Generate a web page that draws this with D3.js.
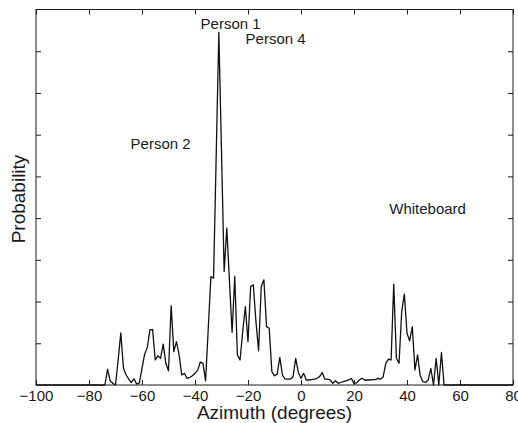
<!DOCTYPE html>
<html>
<head>
<meta charset="utf-8">
<script src="https://cdn.jsdelivr.net/npm/d3@7"></script>
<style>
  html, body { margin: 0; padding: 0; background: #fff; }
  svg { display: block; font-family: "Liberation Sans", Arial, sans-serif; }
</style>
</head>
<body>
<svg id="chart" width="518" height="423"></svg>
<script>
// ---- data ----
const azimuth = d3.range(-100, 81); // degrees, one sample per degree
const probNonZero = {
  "-73":0.38,"-72":0.10,"-71":0.04,"-70":0.00,"-69":0.60,"-68":1.25,"-67":0.40,"-66":0.24,
  "-65":0.14,"-64":0.06,"-63":0.15,"-62":0.02,"-61":0.05,"-60":0.40,"-59":0.74,"-58":0.90,
  "-57":1.32,"-56":1.33,"-55":0.60,"-54":0.70,"-53":0.64,"-52":0.98,"-51":0.52,"-50":0.34,
  "-49":1.90,"-48":0.80,"-47":1.04,"-46":0.72,"-45":0.24,"-44":0.28,"-43":0.16,"-42":0.18,
  "-41":0.22,"-40":0.28,"-39":0.35,"-38":0.55,"-37":0.52,"-36":0.10,"-35":1.35,"-34":2.60,
  "-33":2.56,"-32":5.50,"-31":8.45,"-30":5.60,"-29":2.72,"-28":3.76,"-27":2.50,"-26":1.26,
  "-25":2.60,"-24":0.72,"-23":0.60,"-22":1.28,"-21":1.88,"-20":1.04,"-19":2.36,"-18":2.40,
  "-17":1.52,"-16":0.82,"-15":2.36,"-14":2.52,"-13":1.40,"-12":1.36,"-11":0.32,"-10":0.22,
  "-9":0.26,"-8":0.66,"-7":0.24,"-6":0.14,"-5":0.14,"-4":0.14,"-3":0.20,"-2":0.64,"-1":0.30,
  "0":0.16,"1":0.28,"2":0.12,"3":0.12,"4":0.13,"5":0.14,"6":0.16,"7":0.20,"8":0.30,"9":0.14,
  "10":0.14,"11":0.12,"12":0.04,"13":0.10,"14":0.04,"15":0.06,"16":0.08,"17":0.10,"18":0.12,
  "19":0.16,"20":0.04,"21":0.05,"22":0.12,"23":0.16,"24":0.12,"25":0.12,"26":0.12,"27":0.13,
  "28":0.13,"29":0.16,"30":0.14,"31":0.20,"32":0.52,"33":0.62,"34":0.60,"35":2.42,"36":0.64,
  "37":0.52,"38":1.76,"39":2.18,"40":1.24,"41":1.06,"42":1.40,"43":0.36,"44":0.72,"45":0.22,
  "46":0.08,"47":0.06,"48":0.12,"49":0.40,"50":0.00,"51":0.64,"52":0.00,"53":0.78,"54":0.00
};
const probability = azimuth.map(a => probNonZero[String(a)] || 0);

const xTicks = [-100, -80, -60, -40, -20, 0, 20, 40, 60, 80];
const yTicks = [1, 2, 3, 4, 5, 6, 7, 8];

const labelNames = ["Person 1", "Person 4", "Person 2", "Whiteboard"];
const labelAz = [-37.9, -20.9, -64.3, 33.3];
const labelProb = [8.54, 8.18, 5.65, 4.10];

// ---- drawing ----
const svg = d3.select("#chart");
const mLeft = 36, mRight = 513, mTop = 9.5, mBottom = 385;
const x = d3.scaleLinear().domain([-100, 80]).range([mLeft, mRight]);
const y = d3.scaleLinear().domain([0, 9]).range([mBottom, mTop]);
const ink = "#1a1a1a";

// frame
svg.append("rect")
  .attr("x", mLeft).attr("y", mTop)
  .attr("width", mRight - mLeft).attr("height", mBottom - mTop)
  .attr("fill", "none").attr("stroke", ink).attr("stroke-width", 1);

const fmt = d => (d < 0 ? "\u2212" + Math.abs(d) : String(d));

// bottom axis with labels (ticks inward)
const gx = svg.append("g").attr("transform", `translate(0,${mBottom})`)
  .call(d3.axisBottom(x).tickValues(xTicks).tickSize(-5).tickPadding(5).tickFormat(fmt));
// top axis ticks (inward)
const gxt = svg.append("g").attr("transform", `translate(0,${mTop})`)
  .call(d3.axisTop(x).tickValues(xTicks).tickSize(-5).tickFormat(""));
// left / right y ticks (inward, no labels)
const gyl = svg.append("g").attr("transform", `translate(${mLeft},0)`)
  .call(d3.axisLeft(y).tickValues(yTicks).tickSize(-5).tickFormat(""));
const gyr = svg.append("g").attr("transform", `translate(${mRight},0)`)
  .call(d3.axisRight(y).tickValues(yTicks).tickSize(-5).tickFormat(""));

[gx, gxt, gyl, gyr].forEach(g => {
  g.select(".domain").remove();
  g.selectAll(".tick line").attr("stroke", ink);
});
gx.selectAll(".tick text")
  .attr("font-size", 15).attr("fill", ink)
  .attr("font-family", "Liberation Sans, Arial, sans-serif");

// data line
const line = d3.line().x((d, i) => x(azimuth[i])).y(d => y(d));
svg.append("path")
  .datum(probability)
  .attr("d", line)
  .attr("fill", "none")
  .attr("stroke", "#111")
  .attr("stroke-width", 1.3)
  .attr("stroke-linejoin", "round");

// annotations
svg.selectAll("text.ann")
  .data(labelNames)
  .enter().append("text")
  .attr("class", "ann")
  .attr("x", (d, i) => x(labelAz[i]))
  .attr("y", (d, i) => y(labelProb[i]))
  .attr("font-size", 15)
  .attr("fill", ink)
  .text(d => d);

// axis titles
svg.append("text")
  .attr("x", (mLeft + mRight) / 2).attr("y", 419)
  .attr("text-anchor", "middle")
  .attr("font-size", 19).attr("fill", ink)
  .text("Azimuth (degrees)");

svg.append("text")
  .attr("transform", "translate(25,199) rotate(-90)")
  .attr("text-anchor", "middle")
  .attr("font-size", 19).attr("fill", ink)
  .text("Probability");
</script>
</body>
</html>
